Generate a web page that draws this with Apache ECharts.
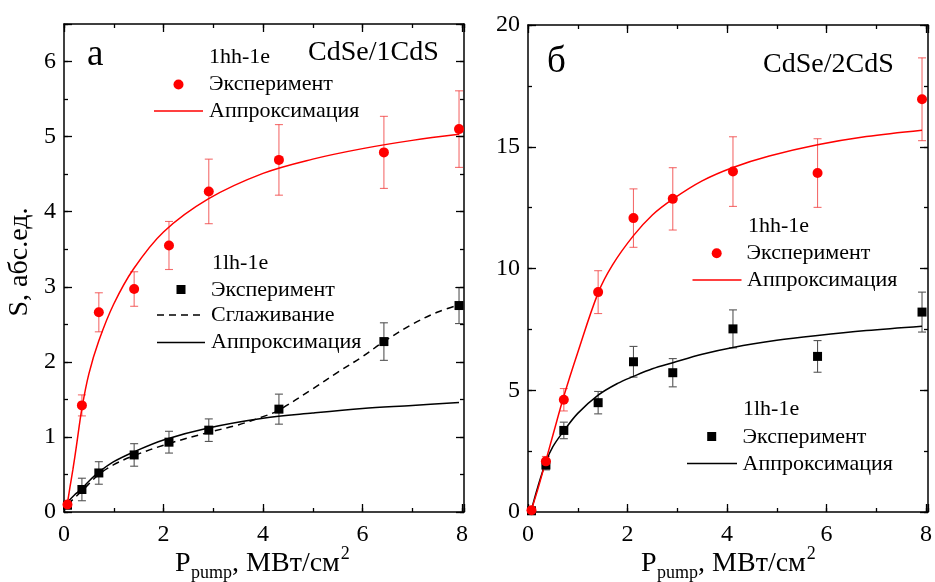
<!DOCTYPE html>
<html><head><meta charset="utf-8">
<script src="https://cdn.jsdelivr.net/npm/echarts@6/dist/echarts.min.js"></script>
<style>html,body{margin:0;padding:0;background:#fff}#c{width:935px;height:582px}</style>
</head><body><div id="c"></div>
<script>
const FONT = 'Liberation Serif';

// ---------- tick labels ----------
const xTickLabels = ['0', '2', '4', '6', '8'];
const leftYTickLabels = ['0', '1', '2', '3', '4', '5', '6'];
const rightYTickLabels = ['0', '5', '10', '15', '20'];

// ---------- panel а : CdSe/1CdS ----------
const pA = [0.07, 0.36, 0.70, 1.41, 2.11, 2.91, 4.32, 6.43, 7.94];
const hhA = [0.10, 1.42, 2.66, 2.97, 3.55, 4.27, 4.69, 4.79, 5.10];
const hhAErr = [0.04, 0.14, 0.26, 0.23, 0.32, 0.43, 0.47, 0.48, 0.51];
const lhA = [0.09, 0.30, 0.52, 0.76, 0.93, 1.09, 1.37, 2.27, 2.75];
const lhAErr = [0.03, 0.15, 0.15, 0.15, 0.145, 0.15, 0.20, 0.25, 0.24];

const fitAhhX = [0.07, 0.12, 0.18, 0.25, 0.36, 0.5, 0.7, 1.0, 1.4, 2.0, 2.9, 4.0, 5.0, 6.0, 7.0, 7.94];
const fitAhhY = [0.12, 0.33, 0.57, 0.88, 1.38, 1.84, 2.28, 2.77, 3.24, 3.73, 4.17, 4.51, 4.70, 4.84, 4.95, 5.03];

const fitAlhX = [0.07, 0.2, 0.36, 0.5, 0.7, 1.0, 1.4, 2.0, 2.9, 4.0, 5.0, 6.0, 7.0, 7.94];
const fitAlhY = [0.13, 0.22, 0.31, 0.41, 0.53, 0.67, 0.80, 0.96, 1.12, 1.25, 1.32, 1.38, 1.42, 1.46];

const smoothAX = [0.07, 0.2, 0.36, 0.7, 1.0, 1.4, 2.1, 2.9, 3.5, 4.0, 4.3, 5.0, 5.5, 6.0, 6.43, 7.0, 7.5, 7.94];
const smoothAY = [0.10, 0.18, 0.28, 0.50, 0.63, 0.75, 0.91, 1.06, 1.16, 1.27, 1.35, 1.64, 1.86, 2.07, 2.27, 2.50, 2.66, 2.76];

// ---------- panel б : CdSe/2CdS ----------
const pB = [0.07, 0.36, 0.72, 1.41, 2.12, 2.91, 4.12, 5.82, 7.92];
const hhB = [0.07, 2.08, 4.61, 9.03, 12.07, 12.86, 13.98, 13.92, 16.95];
const hhBErr = [0.05, 0.20, 0.46, 0.88, 1.20, 1.28, 1.43, 1.41, 1.70];
const lhB = [0.05, 1.93, 3.35, 4.49, 6.17, 5.72, 7.52, 6.39, 8.21];
const lhBErr = [0.05, 0.20, 0.34, 0.46, 0.63, 0.58, 0.78, 0.65, 0.82];

const fitBhhX = [0.07, 0.2, 0.36, 0.5, 0.72, 1.0, 1.41, 1.7, 2.12, 2.5, 2.91, 3.5, 4.12, 4.85, 5.82, 6.8, 7.92];
const fitBhhY = [0.10, 0.95, 2.12, 3.15, 4.75, 6.55, 9.00, 10.15, 11.35, 12.20, 12.85, 13.60, 14.15, 14.62, 15.08, 15.42, 15.68];

const fitBlhX = [0.07, 0.2, 0.36, 0.5, 0.72, 1.0, 1.41, 1.8, 2.12, 2.5, 2.91, 3.5, 4.12, 5.0, 5.82, 6.8, 7.92];
const fitBlhY = [0.10, 1.05, 2.05, 2.68, 3.33, 4.05, 4.80, 5.28, 5.57, 5.88, 6.13, 6.48, 6.76, 7.05, 7.25, 7.45, 7.63];

// ---------- helpers ----------
const X_MAX = 8.04;
const pairs = (xs, ys) => xs.map((x, i) => [x, ys[i]]);
const errData = (xs, ys, es) => xs.map((x, i) => [x, ys[i] - es[i], ys[i] + es[i]]);

function labelFmt(list) {
  return v => (list.includes(String(v)) ? String(v) : '');
}

function axis(grid, position, opts) {
  return {
    type: 'value', gridIndex: grid, position: position,
    min: 0, max: opts.max, interval: opts.interval,
    axisLine: { show: opts.line, onZero: false, lineStyle: { color: '#000', width: 1.5 } },
    axisTick: { show: true, inside: true, length: opts.tickLen, lineStyle: { color: '#000', width: 1.3 } },
    minorTick: { show: false },
    splitLine: { show: false },
    axisLabel: opts.labels ? {
      show: true, margin: opts.margin, fontFamily: FONT, fontSize: 24, color: '#000',
      formatter: labelFmt(opts.labels), hideOverlap: false
    } : { show: false },
    z: 5
  };
}

const xAxes = [];
const yAxes = [];
[0, 1].forEach(g => {
  xAxes.push(axis(g, 'bottom', { max: X_MAX, interval: 2, tickLen: 8, line: true, labels: xTickLabels, margin: 11 }));
  xAxes.push(axis(g, 'bottom', { max: X_MAX, interval: 1, tickLen: 4, line: false }));
  xAxes.push(axis(g, 'top', { max: X_MAX, interval: 2, tickLen: 8, line: true }));
  xAxes.push(axis(g, 'top', { max: X_MAX, interval: 1, tickLen: 4, line: false }));
});
[
  { max: 6.5, major: 1, minor: 0.5, labels: leftYTickLabels },
  { max: 20, major: 5, minor: 2.5, labels: rightYTickLabels }
].forEach((c, g) => {
  yAxes.push(axis(g, 'left', { max: c.max, interval: c.major, tickLen: 8, line: true, labels: c.labels, margin: 8 }));
  yAxes.push(axis(g, 'left', { max: c.max, interval: c.minor, tickLen: 4, line: false }));
  yAxes.push(axis(g, 'right', { max: c.max, interval: c.major, tickLen: 8, line: true }));
  yAxes.push(axis(g, 'right', { max: c.max, interval: c.minor, tickLen: 4, line: false }));
});

function errSeries(g, data, color) {
  return {
    type: 'custom', xAxisIndex: g * 4, yAxisIndex: g * 4, silent: true, z: 3,
    encode: { x: 0, y: [1, 2] },
    data: data,
    renderItem: function (params, api) {
      const x = api.value(0);
      const lo = api.coord([x, api.value(1)]);
      const hi = api.coord([x, api.value(2)]);
      const w = 4;
      const st = { stroke: color, lineWidth: 1.1 };
      return {
        type: 'group',
        children: [
          { type: 'line', shape: { x1: hi[0], y1: hi[1], x2: lo[0], y2: lo[1] }, style: st },
          { type: 'line', shape: { x1: hi[0] - w, y1: hi[1], x2: hi[0] + w, y2: hi[1] }, style: st },
          { type: 'line', shape: { x1: lo[0] - w, y1: lo[1], x2: lo[0] + w, y2: lo[1] }, style: st }
        ]
      };
    }
  };
}
function lineSeries(g, data, color, dashed) {
  return {
    type: 'line', xAxisIndex: g * 4, yAxisIndex: g * 4, data: data,
    showSymbol: false, symbol: 'none', smooth: 0.35, silent: true, z: 4,
    lineStyle: { color: color, width: 1.5, type: dashed ? [7, 5] : 'solid' }
  };
}
function scatterSeries(g, data, color, symbol, size) {
  return {
    type: 'scatter', xAxisIndex: g * 4, yAxisIndex: g * 4, data: data,
    symbol: symbol, symbolSize: size, silent: true, z: 6,
    itemStyle: { color: color, opacity: 1 }
  };
}

const RED = '#ff0000';
const RED_ERR = 'rgba(240,60,60,0.75)';
const BLK_ERR = '#555555';

const series = [
  // panel а
  errSeries(0, errData(pA, lhA, lhAErr), BLK_ERR),
  lineSeries(0, pairs(smoothAX, smoothAY), '#000', true),
  lineSeries(0, pairs(fitAlhX, fitAlhY), '#000', false),
  scatterSeries(0, pairs(pA, lhA), '#000', 'rect', 9),
  errSeries(0, errData(pA, hhA, hhAErr), RED_ERR),
  lineSeries(0, pairs(fitAhhX, fitAhhY), RED, false),
  scatterSeries(0, pairs(pA, hhA), RED, 'circle', 10),
  // panel б
  errSeries(1, errData(pB, lhB, lhBErr), BLK_ERR),
  lineSeries(1, pairs(fitBlhX, fitBlhY), '#000', false),
  scatterSeries(1, pairs(pB, lhB), '#000', 'rect', 9),
  errSeries(1, errData(pB, hhB, hhBErr), RED_ERR),
  lineSeries(1, pairs(fitBhhX, fitBhhY), RED, false),
  scatterSeries(1, pairs(pB, hhB), RED, 'circle', 10)
];

// ---------- annotations / legends ----------
const mctx = document.createElement('canvas').getContext('2d');
function textW(s, size) { mctx.font = size + 'px "' + FONT + '"'; return mctx.measureText(s).width; }

function txt(x, y, text, size, extra) {
  const el = {
    type: 'text', x: x, y: y, silent: true, z: 20,
    style: { text: text, fontFamily: FONT, fontSize: size, fill: '#000', align: 'left', verticalAlign: 'middle' }
  };
  if (extra) {
    if (extra.rotation !== undefined) el.rotation = extra.rotation;
    if (extra.align) el.style.align = extra.align;
  }
  return el;
}
function dot(x, y, color) { return { type: 'circle', shape: { cx: x, cy: y, r: 5 }, style: { fill: color }, z: 20, silent: true }; }
function sq(x, y) { return { type: 'rect', shape: { x: x - 4.5, y: y - 4.5, width: 9, height: 9 }, style: { fill: '#000' }, z: 20, silent: true }; }
function seg(x1, x2, y, color, dashed) {
  return { type: 'line', shape: { x1: x1, y1: y, x2: x2, y2: y }, style: { stroke: color, lineWidth: 1.5, lineDash: dashed ? [7, 5] : null }, z: 20, silent: true };
}
function xTitle(left) {
  const x1 = left + textW('P', 28) + 0.5;
  const x2 = x1 + textW('pump', 18);
  const x3 = x2 + textW(', МВт/см', 28) + 1;
  return [
    txt(left, 564, 'P', 28),
    txt(x1, 573, 'pump', 18),
    txt(x2, 564, ', МВт/см', 28),
    txt(x3, 554, '2', 18)
  ];
}

const graphic = [
  // panel а
  txt(87, 55, 'а', 37),
  txt(308, 53, 'CdSe/1CdS', 28),
  txt(209, 57, '1hh-1e', 22),
  dot(178.5, 84.5, RED), txt(209, 84.5, 'Эксперимент', 22),
  seg(154, 203, 111, RED, false), txt(209, 111.5, 'Аппроксимация', 22),
  txt(212, 263, '1lh-1e', 22),
  sq(181, 289.5), txt(211, 290, 'Эксперимент', 22),
  seg(157, 203, 315, '#000', true), txt(211, 315.5, 'Сглаживание', 22),
  seg(157, 205, 342.5, '#000', false), txt(211, 342.5, 'Аппроксимация', 22),
  txt(20, 262, 'S, абс.ед.', 28, { rotation: Math.PI / 2, align: 'center' }),
  ...xTitle(175),
  // panel б
  txt(547, 62.5, 'б', 37),
  txt(763, 65, 'CdSe/2CdS', 28),
  txt(748, 226, '1hh-1e', 22),
  dot(716.7, 253.3, RED), txt(746.5, 253, 'Эксперимент', 22),
  seg(692.5, 741.5, 280, RED, false), txt(747, 280, 'Аппроксимация', 22),
  txt(743, 409, '1lh-1e', 22),
  sq(711.7, 436.5), txt(742.5, 437, 'Эксперимент', 22),
  seg(687, 737, 463.5, '#000', false), txt(742.5, 464, 'Аппроксимация', 22),
  ...xTitle(641)
];

const chart = echarts.init(document.getElementById('c'), null, { renderer: 'canvas' });
chart.setOption({
  animation: false,
  backgroundColor: '#fff',
  textStyle: { fontFamily: FONT },
  grid: [
    { left: 64, top: 24, width: 400, height: 488, containLabel: false },
    { left: 528, top: 25, width: 400, height: 487, containLabel: false }
  ],
  xAxis: xAxes,
  yAxis: yAxes,
  series: series,
  graphic: graphic
});
</script>
</body></html>
